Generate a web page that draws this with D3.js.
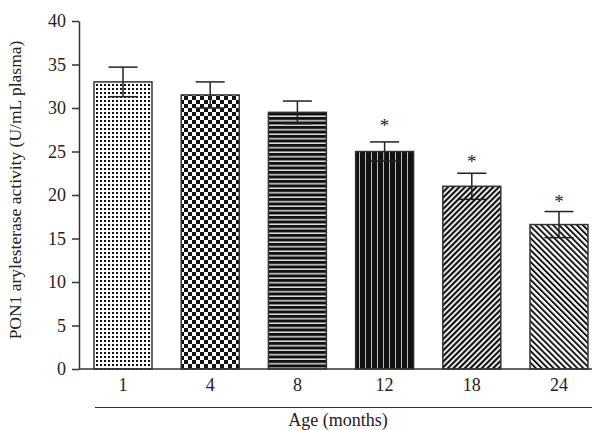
<!DOCTYPE html>
<html>
<head>
<meta charset="utf-8">
<script src="https://cdn.jsdelivr.net/npm/d3@7"></script>
<style>
  body { margin: 0; background: #fff; }
  text { font-family: "Liberation Serif", "DejaVu Serif", serif; fill: #222; }
</style>
</head>
<body>
<script>
// data
var ages = ['1', '4', '8', '12', '18', '24'];
var activity = [33.0, 31.5, 29.5, 25.0, 21.0, 16.6];
var sem = [1.7, 1.5, 1.3, 1.1, 1.5, 1.5];
var significant = [false, false, false, true, true, true];
var yTicks = [0, 5, 10, 15, 20, 25, 30, 35, 40];
var patternIds = ['dots', 'checker', 'hstripe', 'vstripe', 'diagUp', 'diagDown'];

var width = 593, height = 430;
var x0 = 79, x1 = 592, yBase = 369, yTop = 21;

var svg = d3.select('body').append('svg')
    .attr('width', width)
    .attr('height', height);

// Scales
var xScale = d3.scaleBand().domain(ages).range([79.4, 79.4 + 87.2 * 6]).paddingInner(0.335).paddingOuter(0.1675);
var yScale = d3.scaleLinear().domain([0, 40]).range([yBase, yTop]);

// Fill patterns
var defs = svg.append('defs');

var p = defs.append('pattern').attr('id', 'dots').attr('patternUnits', 'userSpaceOnUse').attr('width', 4).attr('height', 4);
p.append('rect').attr('width', 4).attr('height', 4).attr('fill', '#fff');
p.append('rect').attr('x', 0).attr('y', 0).attr('width', 2).attr('height', 2).attr('fill', '#111');

p = defs.append('pattern').attr('id', 'checker').attr('patternUnits', 'userSpaceOnUse').attr('width', 8).attr('height', 8);
p.append('rect').attr('width', 8).attr('height', 8).attr('fill', '#fff');
p.append('rect').attr('x', 0).attr('y', 0).attr('width', 4).attr('height', 4).attr('fill', '#111');
p.append('rect').attr('x', 4).attr('y', 4).attr('width', 4).attr('height', 4).attr('fill', '#111');

p = defs.append('pattern').attr('id', 'hstripe').attr('patternUnits', 'userSpaceOnUse').attr('width', 4).attr('height', 4.5);
p.append('rect').attr('width', 4).attr('height', 4.5).attr('fill', '#ddd');
p.append('rect').attr('y', 0).attr('width', 4).attr('height', 3).attr('fill', '#111');

p = defs.append('pattern').attr('id', 'vstripe').attr('patternUnits', 'userSpaceOnUse').attr('width', 6).attr('height', 4);
p.append('rect').attr('width', 6).attr('height', 4).attr('fill', '#bbb');
p.append('rect').attr('x', 0).attr('width', 5).attr('height', 4).attr('fill', '#111');

p = defs.append('pattern').attr('id', 'diagUp').attr('patternUnits', 'userSpaceOnUse').attr('width', 4).attr('height', 4)
    .attr('patternTransform', 'rotate(45)');
p.append('rect').attr('width', 4).attr('height', 4).attr('fill', '#fff');
p.append('rect').attr('width', 2.2).attr('height', 4).attr('fill', '#111');

p = defs.append('pattern').attr('id', 'diagDown').attr('patternUnits', 'userSpaceOnUse').attr('width', 4.2).attr('height', 4)
    .attr('patternTransform', 'rotate(-45)');
p.append('rect').attr('width', 4.2).attr('height', 4).attr('fill', '#fff');
p.append('rect').attr('width', 1.9).attr('height', 4).attr('fill', '#111');

// Bars
var g = svg.append('g');
g.selectAll('.bar')
    .data(activity)
    .enter().append('rect')
    .attr('class', 'bar')
    .attr('x', function (d, i) { return xScale(ages[i]); })
    .attr('y', function (d) { return yScale(d); })
    .attr('width', xScale.bandwidth())
    .attr('height', function (d) { return yBase - yScale(d); })
    .attr('fill', function (d, i) { return 'url(#' + patternIds[i] + ')'; })
    .attr('stroke', '#333')
    .attr('stroke-width', 1.5);

// Error bars
var capW = 29;
var err = g.selectAll('.err').data(activity).enter().append('g').attr('class', 'err')
    .attr('transform', function (d, i) { return 'translate(' + (xScale(ages[i]) + xScale.bandwidth() / 2) + ',0)'; });
err.append('line')
    .attr('y1', function (d, i) { return yScale(d - sem[i]); })
    .attr('y2', function (d, i) { return yScale(d + sem[i]); })
    .attr('stroke', '#222').attr('stroke-width', 1.5);
err.append('line')
    .attr('x1', -capW / 2).attr('x2', capW / 2)
    .attr('y1', function (d, i) { return yScale(d + sem[i]); })
    .attr('y2', function (d, i) { return yScale(d + sem[i]); })
    .attr('stroke', '#222').attr('stroke-width', 1.5);
err.append('line')
    .attr('x1', -capW / 2).attr('x2', capW / 2)
    .attr('y1', function (d, i) { return yScale(d - sem[i]); })
    .attr('y2', function (d, i) { return yScale(d - sem[i]); })
    .attr('stroke', '#222').attr('stroke-width', 1.5);
err.filter(function (d, i) { return significant[i]; })
    .append('text')
    .attr('text-anchor', 'middle')
    .attr('y', function (d, i) { return yScale(d + sem[i]) - 5; })
    .style('font-size', '19px')
    .text('*');

// Y axis
var yAxis = svg.append('g')
    .attr('transform', 'translate(' + x0 + ',0)')
    .call(d3.axisLeft(yScale).tickValues(yTicks).tickSize(7).tickPadding(6).tickSizeOuter(0));
yAxis.select('.domain').attr('stroke', '#333').attr('stroke-width', 1.5);
yAxis.selectAll('.tick line').attr('stroke', '#333').attr('stroke-width', 1.5);
yAxis.selectAll('.tick text').style('font-size', '18px').attr('fill', '#222');

// X axis
var xAxis = svg.append('g')
    .attr('transform', 'translate(0,' + yBase + ')')
    .call(d3.axisBottom(xScale).tickSize(0).tickPadding(9));
xAxis.select('.domain').remove();
xAxis.selectAll('.tick text').style('font-size', '18px').attr('fill', '#222');
svg.append('line')
    .attr('x1', x0).attr('x2', x1).attr('y1', yBase).attr('y2', yBase)
    .attr('stroke', '#333').attr('stroke-width', 1.5);

// bracket line under category labels
svg.append('line')
    .attr('x1', 95).attr('x2', x1).attr('y1', 407.5).attr('y2', 407.5)
    .attr('stroke', '#333').attr('stroke-width', 1.2);

// Axis titles
svg.append('text')
    .attr('x', 338).attr('y', 426)
    .attr('text-anchor', 'middle')
    .style('font-size', '18px')
    .text('Age (months)');

svg.append('text')
    .attr('transform', 'translate(21,' + 190 + ') rotate(-90)')
    .attr('text-anchor', 'middle')
    .style('font-size', '17.5px')
    .text('PON1 arylesterase activity (U/mL plasma)');
</script>
</body>
</html>
